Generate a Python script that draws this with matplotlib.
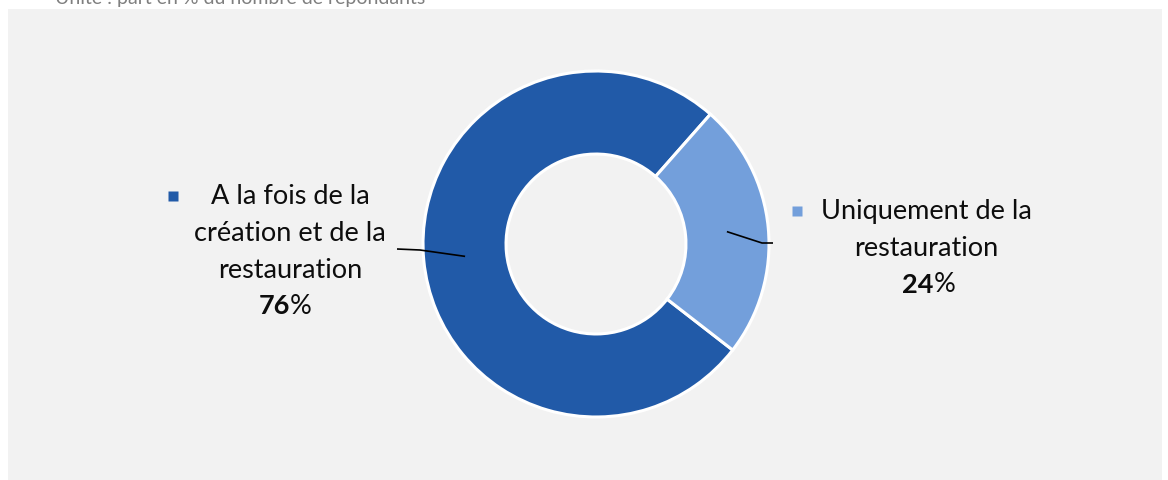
import numpy as np
import matplotlib
matplotlib.use("Agg")
import matplotlib.pyplot as plt
from matplotlib.patches import Rectangle

# data
categories = ["A la fois de la\ncréation et de la\nrestauration", "Uniquement de la\nrestauration"]
shares = [76, 24]
colors = ["#215AA8", "#739FDB"]
subtitle = "Unité : part en % du nombre de répondants"

plt.rcParams['font.family'] = ['Lato', 'DejaVu Sans']

W, H, DPI = 1168, 481, 100
fig = plt.figure(figsize=(W / DPI, H / DPI), dpi=DPI, facecolor='white')

# grey panel
fig.patches.append(Rectangle((8 / W, 0), (1162 - 8) / W, (H - 10) / H,
                             transform=fig.transFigure, facecolor='#F2F2F2',
                             edgecolor='none', zorder=-5))
fig.text(55 / W, 1 - 4 / H, subtitle, fontsize=14, color='#7F7F7F',
         va='baseline', ha='left')

# axes: 1 data unit = outer radius (173 px), donut centre at (596, 245) px
R = 173.0
cx, cy = 596, 245
ax = fig.add_axes([0, 0, 1, 1])
ax.patch.set_visible(False)

start = 48.6
wedges, _ = ax.pie(shares, colors=colors, startangle=start, counterclock=True,
                   radius=1.0, wedgeprops=dict(width=0.48, edgecolor='white', linewidth=2.2))
ax.set_xlim(-cx / R, (W - cx) / R)
ax.set_ylim(-(H - cy) / R, cy / R)
ax.set_aspect('equal')
ax.axis('off')

# labels with leader lines
fs = 19.5
label_x = [(290 - cx) / R, (926 - cx) / R]
label_top = [(cy - 197) / R, (cy - 212) / R]
pct_split = [(290 - cx) / R, (934 - cx) / R]
line_gap = 36.5 / R
for i, w in enumerate(wedges):
    mid = np.deg2rad((w.theta1 + w.theta2) / 2)
    r0 = 0.76
    x0, y0 = r0 * np.cos(mid), r0 * np.sin(mid)
    if i == 0:
        xs = [x0, (420 - cx) / R, (397 - cx) / R]
        ys = [y0, (cy - 251) / R, (cy - 250) / R]
    else:
        xs = [x0, (762 - cx) / R, (773 - cx) / R]
        ys = [y0, (cy - 244) / R, (cy - 244) / R]
    ax.plot(xs, ys, color='black', lw=1.2, solid_capstyle='butt')

    lines = categories[i].split("\n")
    for j, ln in enumerate(lines):
        ax.text(label_x[i], label_top[i] - j * line_gap, ln, fontsize=fs,
                ha='center', va='center', color='#0D0D0D')
    yp = label_top[i] - len(lines) * line_gap
    ax.text(pct_split[i], yp, str(shares[i]), fontsize=fs, fontweight='bold',
            ha='right', va='center', color='#0D0D0D')
    ax.text(pct_split[i], yp, "%", fontsize=fs, ha='left', va='center', color='#0D0D0D')

# legend keys
key_x = [(173 - cx) / R, (797 - cx) / R]
for i in range(2):
    ax.plot(key_x[i], label_top[i], marker='s', ms=7, color=colors[i], mec='none')

fig.savefig("out.png", dpi=DPI, facecolor=fig.get_facecolor())
